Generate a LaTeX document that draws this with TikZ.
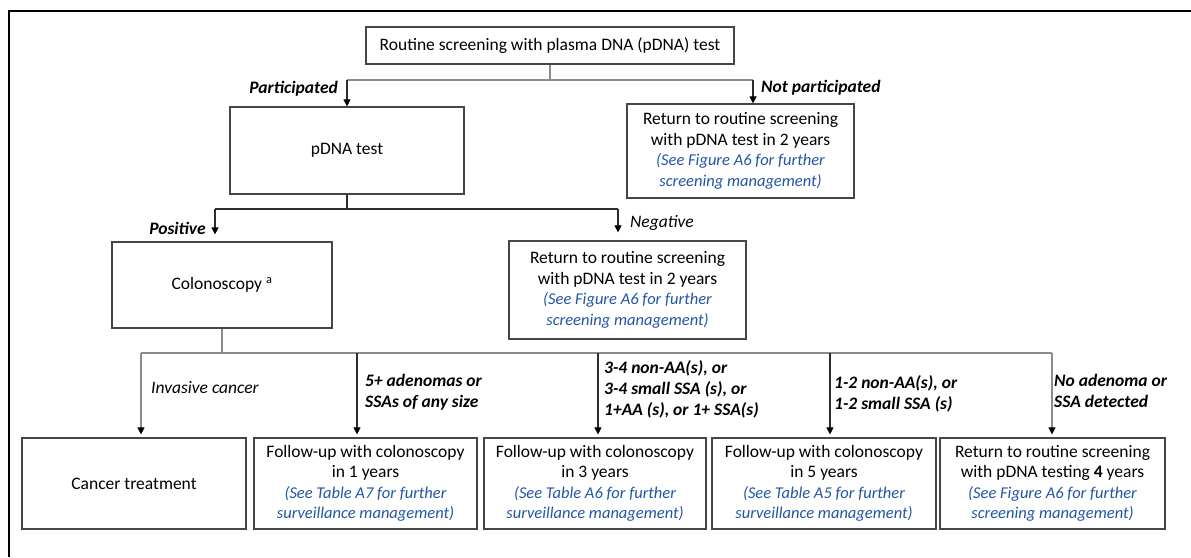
\documentclass[tikz,border=0pt]{standalone}
\usepackage{fontspec}
\setmainfont{Carlito}
\usetikzlibrary{arrows.meta}
\definecolor{noteblue}{RGB}{35,85,165}
\definecolor{lineg}{RGB}{140,140,140}
\definecolor{lined}{RGB}{45,45,45}
\definecolor{boxc}{RGB}{70,70,70}
\newcommand{\seenote}[1]{{\color{noteblue}\fontsize{16.5}{20.5}\selectfont\itshape #1}}
\begin{document}
\begin{tikzpicture}[x=1pt,y=-1pt,
  box/.style={draw=boxc, line width=1.2pt, align=center, inner sep=0pt,
    font=\fontsize{17.5}{20.5}\selectfont},
  lbl/.style={inner sep=0pt, align=left, font=\fontsize{17.5}{21}\selectfont\itshape},
  blbl/.style={lbl, font=\fontsize{17.5}{21}\selectfont\itshape\bfseries},
  gl/.style={draw=lineg, line width=1.1pt},
  dl/.style={draw=lined, line width=1.1pt},
  ar/.style={dl, -{Triangle[width=7pt,length=7pt,color=black]}},
  gar/.style={gl, -{Triangle[width=7pt,length=7pt,color=black]}}
]
\useasboundingbox (0,0) rectangle (1191,557);
\clip (0,0) rectangle (1191,557);

% frame
\draw[line width=2.6pt] (9,557) -- (9,11) -- (1191,11);

% boxes
\node[box, minimum width=368pt, minimum height=37pt] (top) at (550,45.5)
  {Routine screening with plasma DNA (pDNA) test};
\node[box, minimum width=234pt, minimum height=87pt] (pdna) at (347,150.5) {pDNA test};
\node[box, minimum width=227pt, minimum height=94pt] (np) at (740.5,151)
  {Return to routine screening\\ with pDNA test in 2 years\\
   \seenote{(See Figure A6 for further}\\ \seenote{screening management)}};
\node[box, minimum width=220pt, minimum height=86pt] (colo) at (222,285)
  {Colonoscopy \textsuperscript{a}};
\node[box, minimum width=237pt, minimum height=98pt] (neg) at (627.5,290)
  {Return to routine screening\\ with pDNA test in 2 years\\
   \seenote{(See Figure A6 for further}\\ \seenote{screening management)}};
\node[box, minimum width=224pt, minimum height=91pt] (cancer) at (134,483.5) {Cancer treatment};
\node[box, minimum width=223pt, minimum height=91pt] (y1) at (365.5,483.5)
  {Follow-up with colonoscopy\\ in 1 years\\
   \seenote{(See Table A7 for further}\\ \seenote{surveillance management)}};
\node[box, minimum width=222pt, minimum height=91pt] (y3) at (595,483.5)
  {Follow-up with colonoscopy\\ in 3 years\\
   \seenote{(See Table A6 for further}\\ \seenote{surveillance management)}};
\node[box, minimum width=224pt, minimum height=91pt] (y5) at (824,483.5)
  {Follow-up with colonoscopy\\ in 5 years\\
   \seenote{(See Table A5 for further}\\ \seenote{surveillance management)}};
\node[box, minimum width=225pt, minimum height=91pt] (r4) at (1052.5,483.5)
  {Return to routine screening\\ with pDNA testing \textbf{4} years\\
   \seenote{(See Figure A6 for further}\\ \seenote{screening management)}};

% branch points
\coordinate (j0) at (347,80);
\coordinate (j1) at (753,80);
\coordinate (k0) at (215,209);
\coordinate (k1) at (618,209);
\coordinate (m0) at (141,353);
\coordinate (m1) at (357,353);
\coordinate (m2) at (598,353);
\coordinate (m3) at (830,353);
\coordinate (m4) at (1052,353);

% connectors
\draw[gl] (top.south) -- (top.south |- j0);
\draw[gl] (j0) -- (j1);
\draw[ar] (j0) -- (pdna.north);
\draw[ar] (j1) -- (j1 |- np.north);

\draw[dl] (pdna.south) -- (pdna.south |- k0);
\draw[dl] (k0) -- (k1);
\draw[ar, shorten >=7pt] (k0) -- (k0 |- colo.north);
\draw[ar, shorten >=8pt] (k1) -- (k1 |- neg.north);

\draw[gl] (colo.south) -- (colo.south |- m0);
\draw[gl] (m0) -- (m4);
\draw[gar, shorten >=3pt] (m0) -- (m0 |- cancer.north);
\draw[ar, shorten >=3pt] (m1) -- (m1 |- y1.north);
\draw[ar, shorten >=3pt] (m2) -- (m2 |- y3.north);
\draw[ar, shorten >=3pt] (m3) -- (m3 |- y5.north);
\draw[gar, shorten >=3pt] (m4) -- (m4 |- r4.north);

% branch labels
\node[blbl, anchor=east] (lpart) at (338,89) {Participated};
\node[blbl, anchor=west] (lnpart) at (761,88) {Not participated};
\node[blbl, anchor=east] (lpos) at (206,228) {Positive};
\node[lbl, anchor=west] (lneg) at (630,223) {Negative};
\node[lbl, anchor=west] (linv) at (151,388) {Invasive cancer};
\node[blbl, anchor=west] (l5) at (365,392.5) {5+ adenomas or\\ SSAs of any size};
\node[blbl, anchor=west] (l34) at (604,389.5) {3-4 non-AA(s), or\\ 3-4 small SSA (s), or\\ 1+AA (s), or 1+ SSA(s)};
\node[blbl, anchor=west] (l12) at (834,394) {1-2 non-AA(s), or\\ 1-2 small SSA (s)};
\node[blbl, anchor=west] (lno) at (1054,390.5) {No adenoma or\\ SSA detected};
\end{tikzpicture}
\end{document}
